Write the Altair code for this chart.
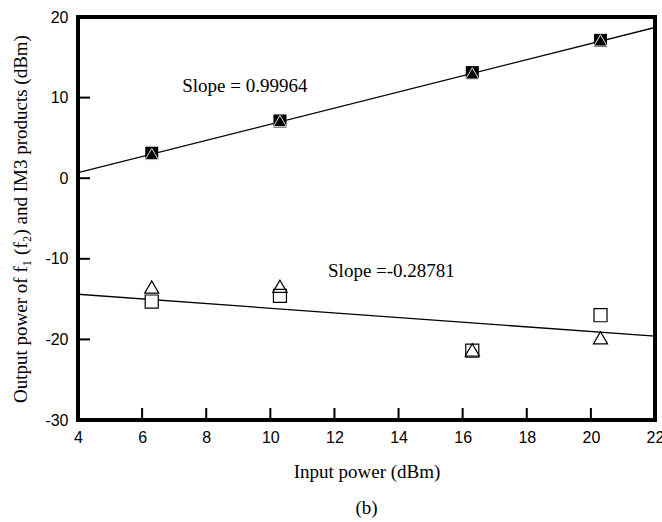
import altair as alt
import pandas as pd

# ---- data ----
input_power = [6.3, 10.3, 16.3, 20.3]
fund_square = [3.1, 7.1, 13.1, 17.1]
fund_triangle = [3.0, 7.1, 13.0, 17.1]
im3_square = [-15.3, -14.6, -21.4, -17.0]
im3_triangle = [-13.5, -13.4, -21.3, -19.8]

fit_x = [4, 22]
fund_fit = [0.7, 18.7]
im3_fit = [-14.4, -19.6]

x_ticks = [4, 6, 8, 10, 12, 14, 16, 18, 20, 22]
y_ticks = [-30, -20, -10, 0, 10, 20]
x_inner_ticks = [6, 8, 10, 12, 14, 16, 18, 20]
y_inner_ticks = [-20, -10, 0, 10]

annot_text = ["Slope = 0.99964", "Slope =-0.28781"]
annot_x = [7.25, 11.8]
annot_y = [11.4, -11.5]

W, H = 577, 403
SERIF = "Liberation Serif"
SANS = "Liberation Sans"

xs = alt.Scale(domain=[4, 22], nice=False, zero=False)
ys = alt.Scale(domain=[-30, 20], nice=False, zero=False)

x_axis = alt.Axis(values=x_ticks, tickSize=0, domain=False, grid=False,
                  labelFont=SANS, labelFontSize=16, labelColor="black",
                  labelPadding=9, title="Input power (dBm)", titleFont=SERIF,
                  titleFontSize=19, titleFontWeight="normal", titleColor="black",
                  titlePadding=17, labelFlush=False, labelExpr="'' + datum.value")
y_axis = alt.Axis(values=y_ticks, tickSize=0, domain=False, grid=False,
                  labelFont=SANS, labelFontSize=16, labelColor="black",
                  labelPadding=10, title="Output power of f\u2081 (f\u2082) and IM3 products (dBm)",
                  titleFont=SERIF, titleFontSize=19, titleFontWeight="normal",
                  titleColor="black", titlePadding=14, labelFlush=False,
                  labelExpr="'' + datum.value")

pts = pd.DataFrame({
    "x": input_power * 4,
    "y": fund_square + fund_triangle + im3_square + im3_triangle,
    "kind": ["fs"] * 4 + ["ft"] * 4 + ["is"] * 4 + ["it"] * 4,
})

fits = pd.DataFrame({
    "x": fit_x * 2,
    "y": fund_fit + im3_fit,
    "grp": ["f", "f", "i", "i"],
})

base_x = alt.X("x:Q", scale=xs, axis=x_axis)
base_y = alt.Y("y:Q", scale=ys, axis=y_axis)

lines = alt.Chart(fits).mark_line(color="black", strokeWidth=1.3, clip=True).encode(
    x=base_x, y=base_y, detail="grp:N")

fs = alt.Chart(pts).transform_filter("datum.kind == 'fs'").mark_point(
    shape="square", size=170, filled=True, color="black", opacity=1).encode(x="x:Q", y="y:Q")
ft = alt.Chart(pts).transform_filter("datum.kind == 'ft'").mark_point(
    shape="triangle-up", size=170, fill="black", stroke="#dddddd", strokeWidth=1,
    fillOpacity=1, opacity=1).encode(x="x:Q", y="y:Q")
isq = alt.Chart(pts).transform_filter("datum.kind == 'is'").mark_point(
    shape="square", size=170, fill="white", stroke="black", strokeWidth=1.2,
    fillOpacity=1, opacity=1).encode(x="x:Q", y="y:Q")
itr = alt.Chart(pts).transform_filter("datum.kind == 'it'").mark_point(
    shape="triangle-up", size=200, filled=False, stroke="black", strokeWidth=1.2,
    opacity=1).encode(x="x:Q", y="y:Q")

xt = alt.Chart(pd.DataFrame({"t": x_inner_ticks})).mark_rule(color="black", strokeWidth=2).encode(
    x=alt.X("t:Q", scale=xs), y=alt.value(H), y2=alt.value(H - 12))
yt = alt.Chart(pd.DataFrame({"t": y_inner_ticks})).mark_rule(color="black", strokeWidth=2).encode(
    y=alt.Y("t:Q", scale=ys), x=alt.value(0), x2=alt.value(12))

ann = alt.Chart(pd.DataFrame({"x": annot_x, "y": annot_y, "t": annot_text})).mark_text(
    font=SERIF, fontSize=19, align="left", baseline="middle", color="black").encode(
    x=alt.X("x:Q", scale=xs), y=alt.Y("y:Q", scale=ys), text="t:N")

chart = alt.layer(lines, xt, yt, fs, ft, isq, itr, ann).properties(
    width=W, height=H,
    title=alt.TitleParams("(b)", orient="bottom", font=SERIF, fontSize=19,
                          fontWeight="normal", color="black", offset=18, anchor="middle"),
    padding={"left": 78, "top": 17, "right": 7, "bottom": 102},
    autosize=alt.AutoSizeParams(type="none"),
    background="white",
).configure_view(stroke="black", strokeWidth=4)

chart.save("out.html", embed_options={"renderer": "svg", "actions": False})
